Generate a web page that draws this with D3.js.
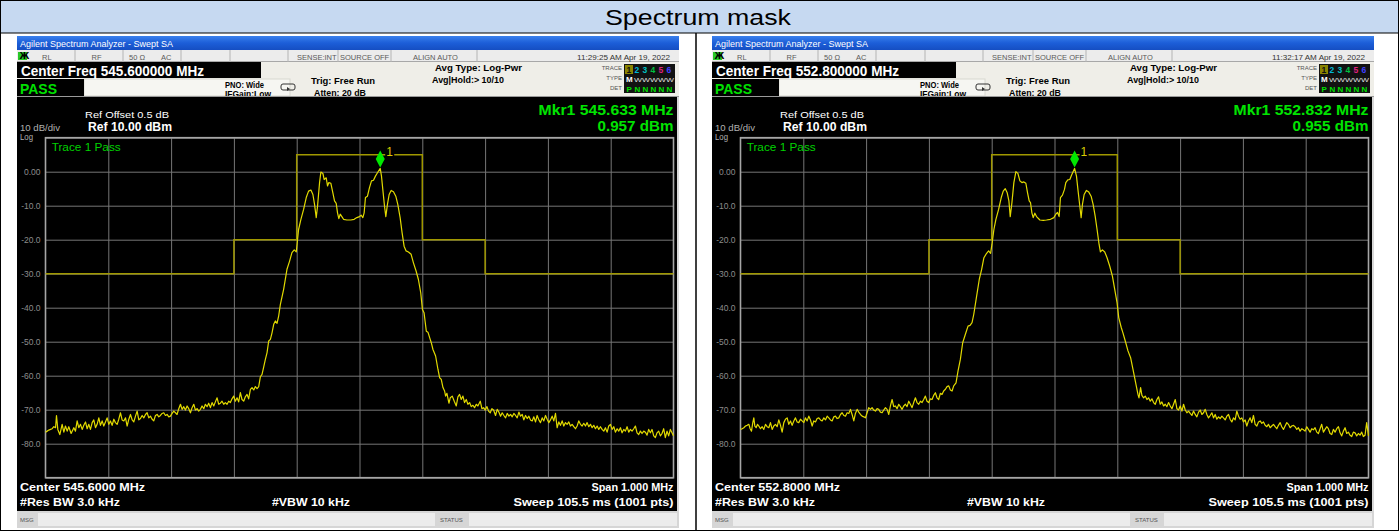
<!DOCTYPE html>
<html><head><meta charset="utf-8">
<script src="https://cdn.jsdelivr.net/npm/d3@7"></script>
<style>html,body{margin:0;padding:0;background:#fff;}svg{display:block;}</style>
</head><body>
<svg id="c" width="1399" height="531"></svg>
<script>
// ---------------- DATA ----------------
const chartTitle = "Spectrum mask";
const windowTitle = "Agilent Spectrum Analyzer - Swept SA";
const centerFreqLabels = ["545.600000", "552.800000"];
const centerLabels = ["545.6000", "552.8000"];
const markerOffsetsKHz = [33, 32];
const markerLevelsDbm = [0.957, 0.955];
const markerFreqLabels = ["545.633", "552.832"];
const timestamps = ["11:29:25 AM Apr 19, 2022", "11:32:17 AM Apr 19, 2022"];
const statusLabels = ["RL", "RF", "50 \u03A9", "AC", "SENSE:INT", "SOURCE OFF", "ALIGN AUTO"];
const yTicks = [0, -10, -20, -30, -40, -50, -60, -70, -80];
const yTickLabels = ["0.00", "-10.0", "-20.0", "-30.0", "-40.0", "-50.0", "-60.0", "-70.0", "-80.0"];
const yGrid = [10, 0, -10, -20, -30, -40, -50, -60, -70, -80, -90];
const xGridKHz = [-400, -300, -200, -100, 0, 100, 200, 300, 400];
const xDomainKHz = [-500, 500];
const yDomainDbm = [10, -90];
// limit line (offset kHz, dBm)
const maskSteps = [[-500,-30],[-200,-30],[-200,-20],[-100,-20],[-100,5],[100,5],[100,-20],[200,-20],[200,-30],[500,-30]];

// trace 1 of the left screen (offset kHz from center, dBm)
const traceA = [
[-500,-76.6],[-497.3,-76.3],[-494.7,-76.0],[-492,-75.8],[-489.4,-75.6],[-486.7,-75.0],[-484,-75.3],[-482.5,-71.7],[-480.4,-75.8],[-477.2,-77.3],[-473.5,-74.3],[-470.8,-76.6],[-468.2,-74.8],[-465.5,-76.3],[-462.9,-75.0],[-459.2,-77.0],[-454.9,-75.3],[-452.3,-76.3],[-449.6,-73.3],[-447,-75.3],[-444.3,-74.3],[-441.6,-75.8],[-439,-74.6],[-436.3,-73.6],[-433.7,-75.6],[-431,-74.3],[-428.4,-75.8],[-425.7,-73.8],[-423.1,-73.0],[-420.4,-75.3],[-417.8,-74.3],[-415.1,-72.4],[-412.5,-74.6],[-409.8,-73.3],[-407.2,-74.8],[-404.5,-73.6],[-401.9,-72.4],[-399.2,-74.3],[-396.6,-73.3],[-393.9,-74.6],[-391.2,-72.8],[-388.6,-73.8],[-385.9,-74.3],[-383.3,-72.8],[-380.6,-70.9],[-378,-73.0],[-375.3,-73.3],[-372.6,-72.4],[-370,-74.8],[-367.3,-72.8],[-364.7,-71.4],[-362,-73.0],[-359.4,-73.6],[-356.7,-71.9],[-354.1,-70.4],[-351.4,-73.0],[-348.8,-72.6],[-346.1,-71.7],[-343.5,-72.4],[-340.8,-71.4],[-338.2,-70.9],[-335.5,-72.4],[-332.9,-71.9],[-330.2,-72.8],[-327.6,-73.3],[-324.9,-71.7],[-322.3,-71.4],[-319.6,-72.1],[-317,-71.7],[-314.3,-71.1],[-311.7,-70.9],[-309,-71.7],[-306.4,-71.4],[-303.7,-72.1],[-301.1,-71.9],[-298.4,-71.1],[-295.8,-70.4],[-293.1,-70.9],[-290.5,-71.4],[-287.8,-69.7],[-285.1,-68.4],[-282.5,-69.9],[-279.8,-69.1],[-277.2,-70.1],[-274.5,-68.9],[-271.9,-69.7],[-269.2,-70.9],[-266.6,-69.4],[-263.9,-68.4],[-261.3,-70.1],[-258.6,-69.7],[-256,-70.4],[-253.3,-69.9],[-250.7,-68.9],[-248,-69.7],[-245.4,-68.4],[-242.7,-69.1],[-240.1,-68.1],[-237.4,-69.4],[-234.8,-67.9],[-232.1,-68.9],[-229.5,-67.7],[-226.8,-66.5],[-224.2,-68.4],[-221.5,-68.1],[-218.9,-67.5],[-216.2,-68.4],[-213.6,-67.9],[-210.9,-68.4],[-208.3,-67.5],[-205.6,-67.9],[-203,-66.8],[-200.3,-66.0],[-197.7,-67.5],[-195,-66.5],[-192.4,-67.7],[-189.7,-65.0],[-187.1,-67.0],[-184.4,-67.5],[-181.8,-66.2],[-179.1,-65.5],[-176.5,-66.8],[-173.7,-64.0],[-171.1,-63.5],[-168.4,-64.2],[-165.8,-63.2],[-163.1,-63.8],[-160.5,-63.2],[-157.8,-60.3],[-155.2,-59.6],[-152.5,-57.4],[-149.9,-55.2],[-147.2,-53.2],[-144.6,-49.8],[-141.9,-49.3],[-139.3,-47.4],[-136.6,-44.9],[-134,-43.9],[-131.3,-44.6],[-128.6,-42.3],[-126,-39.0],
[-120.8,-34.6],[-115.5,-28.7],[-111.3,-26.3],[-107.6,-23.8],[-103.9,-23.0],[-100.7,-23.6],[-97.0,-17.0],[-93.3,-14.0],[-89.0,-11.1],[-84.8,-7.6],[-81.1,-5.7],[-77.4,-5.4],[-74.2,-6.7],[-71.6,-9.6],[-68.9,-13.5],[-66.8,-10.1],[-63.6,-3.2],[-61.5,-0.1],[-58.3,-0.5],[-56.2,-2.3],[-53.0,-1.8],[-50.9,-4.2],[-48.8,-3.2],[-45.6,-3.4],[-42.4,-6.2],[-39.8,-8.6],[-37.1,-9.3],[-35.0,-12.1],[-32.9,-13.8],[-30.7,-12.5],[-28.1,-13.2],[-25.4,-14.0],[-20.1,-14.2],[-13.8,-14.2],[-8.5,-14.0],[-4.2,-13.5],[0,-13.2],[2.7,-12.8],[5.3,-13.5],[7.4,-12.1],[9.5,-7.6],[12.7,-7.2],[15.9,-4.7],[19.1,-2.7],[22.3,-2.5],[25.4,-1.3],[28.6,-0.3],[33,0.957],[35.0,-1.3],[37.1,-5.2],[39.8,-10.1],[41.9,-13.2],[44.5,-9.6],[47.2,-6.7],[50.4,-5.5],[54.1,-5.9],[57.8,-7.2],[61.0,-9.6],[64.7,-13.5],[67.8,-17.9],[71.0,-21.9],[74.2,-23.3],[77.9,-23.6],[82.2,-24.3],[85.9,-26.8],[90.1,-29.2],[93.8,-31.7],[97.5,-35.6],[100.2,-40.5],[102.8,-41.5],
[106.4,-46.9],[109,-47.2],[111.7,-48.8],[114.3,-50.3],[117,-52.3],[121.2,-54.2],[124.9,-58.1],[127.6,-60.6],[130.2,-61.1],[132.9,-63.5],[135.5,-64.5],[137.1,-66.0],[139.2,-65.2],[142.4,-68.1],[144.5,-66.5],[147.7,-66.0],[150.9,-67.5],[154.1,-68.9],[156.7,-66.2],[159.4,-65.5],[162,-67.0],[164.7,-66.0],[167.3,-67.9],[170,-67.0],[172.6,-68.4],[175.3,-67.9],[177.9,-69.1],[180.6,-68.7],[183.2,-69.4],[185.9,-68.4],[188.5,-68.9],[192.3,-67.5],[194.9,-69.7],[197.6,-69.4],[200.2,-70.1],[202.9,-69.1],[205.5,-70.4],[208.2,-70.9],[210.8,-69.7],[213.5,-70.1],[216.6,-71.7],[219.3,-69.9],[221.9,-70.7],[224.6,-71.9],[227.2,-70.9],[229.9,-71.7],[232.6,-72.4],[235.2,-71.1],[237.9,-71.9],[240.5,-71.4],[243.2,-72.1],[245.8,-71.1],[248.5,-71.7],[251.1,-72.4],[253.8,-70.7],[256.4,-71.9],[259.1,-71.4],[261.7,-73.0],[264.4,-71.7],[267,-72.6],[269.7,-71.9],[272.3,-73.0],[275,-73.3],[277.6,-72.1],[280.3,-73.6],[282.9,-71.7],[285.6,-73.0],[288.2,-73.8],[290.9,-72.4],[293.5,-73.3],[296.2,-71.7],[298.8,-72.8],[301.5,-73.8],[304.1,-73.0],[306.8,-71.9],[309.4,-73.3],[312.1,-71.1],[314.7,-75.3],[317.4,-73.6],[320,-74.6],[322.7,-73.3],[325.3,-74.8],[328,-73.8],[330.6,-74.3],[333.3,-73.6],[335.9,-74.8],[338.6,-74.3],[341.2,-75.0],[343.9,-75.6],[346.5,-74.8],[349.2,-73.3],[351.8,-74.3],[354.5,-74.8],[357.1,-74.0],[359.8,-74.8],[362.4,-73.8],[365.1,-75.0],[367.8,-74.3],[370.4,-75.3],[373.1,-74.6],[375.7,-75.6],[378.4,-74.8],[381,-75.8],[383.7,-75.0],[386.3,-75.8],[389,-76.3],[391.6,-75.3],[394.3,-76.6],[396.9,-74.8],[399.6,-74.3],[402.2,-75.8],[404.9,-75.0],[407.5,-76.6],[410.2,-75.6],[412.8,-76.3],[415.5,-75.3],[418.1,-76.8],[420.8,-75.8],[423.4,-76.3],[426.1,-75.0],[428.7,-76.6],[431.4,-75.8],[434,-76.3],[436.7,-75.6],[439.3,-74.8],[442,-76.8],[444.6,-77.3],[447.3,-76.3],[449.9,-77.0],[452.6,-76.3],[455.2,-76.6],[457.9,-77.5],[460.5,-75.8],[463.2,-76.8],[465.8,-75.8],[468.5,-77.7],[471.1,-78.2],[473.8,-76.8],[476.4,-76.3],[479.1,-77.7],[481.7,-77.0],[484.4,-75.6],[487,-78.2],[489.7,-76.3],[492.3,-77.7],[495,-75.8],[497.6,-76.8],[500,-77.7]
];

// trace 1 of the right screen (offset kHz from center, dBm)
const traceB = [
[-500,-75.8],[-497.3,-75.6],[-494.7,-75.3],[-492,-74.8],[-489.4,-74.6],[-486.7,-74.3],[-484.6,-75.6],[-482.5,-76.3],[-480.4,-73.8],[-478.8,-72.4],[-477.2,-74.8],[-475.1,-75.3],[-472.9,-74.3],[-470.8,-74.8],[-468.2,-75.6],[-465.5,-75.0],[-462.9,-75.8],[-460.2,-74.3],[-457.6,-75.0],[-454.9,-75.3],[-452.3,-73.8],[-449.6,-75.8],[-447,-74.8],[-444.3,-74.3],[-441.6,-75.0],[-439,-73.0],[-436.3,-74.6],[-433.7,-76.6],[-431,-73.8],[-428.4,-72.8],[-425.7,-72.4],[-423.1,-74.3],[-420.4,-73.3],[-417.8,-74.6],[-415.1,-73.3],[-412.5,-72.4],[-409.8,-73.6],[-407.2,-73.8],[-404.5,-72.8],[-401.9,-73.3],[-399.2,-73.8],[-396.6,-72.4],[-393.9,-73.3],[-391.2,-71.9],[-388.6,-73.0],[-385.9,-74.8],[-383.3,-73.3],[-380.6,-73.6],[-378,-72.6],[-375.3,-72.4],[-372.6,-73.0],[-370,-73.3],[-367.3,-72.4],[-364.7,-73.0],[-362,-71.9],[-359.4,-72.4],[-356.7,-73.0],[-354.1,-73.3],[-351.4,-72.1],[-348.8,-71.9],[-346.1,-72.6],[-343.5,-72.4],[-340.8,-71.4],[-338.2,-70.9],[-335.5,-71.7],[-332.9,-71.9],[-330.2,-70.9],[-327.6,-71.1],[-324.9,-69.9],[-322.3,-71.4],[-319.6,-73.3],[-317,-71.1],[-314.3,-69.9],[-311.7,-70.7],[-309,-71.4],[-306.4,-71.9],[-303.7,-72.1],[-301.1,-72.4],[-298.4,-70.9],[-295.8,-69.4],[-293.1,-69.9],[-290.5,-69.4],[-287.8,-70.1],[-285.1,-70.4],[-282.5,-69.7],[-279.8,-69.9],[-277.2,-70.7],[-274.5,-70.9],[-271.9,-70.1],[-269.2,-69.4],[-266.6,-69.9],[-263.9,-71.4],[-261.3,-68.9],[-258.6,-67.0],[-256,-69.1],[-253.3,-68.9],[-250.7,-69.7],[-248,-68.4],[-245.4,-69.1],[-242.7,-69.9],[-240.1,-68.9],[-237.4,-68.4],[-234.8,-69.1],[-232.1,-67.5],[-229.5,-68.4],[-226.8,-69.4],[-224.2,-67.9],[-221.5,-66.5],[-218.9,-67.9],[-216.2,-68.4],[-213.6,-67.5],[-210.9,-67.9],[-208.3,-67.0],[-205.6,-66.0],[-203,-67.5],[-200.3,-67.9],[-197.7,-66.8],[-195,-67.0],[-192.4,-65.8],[-189.7,-65.0],[-187.1,-66.5],[-184.4,-67.0],[-181.8,-65.2],[-179.1,-65.5],[-176.5,-64.5],[-173.7,-64.0],[-171.1,-63.2],[-168.4,-63.0],[-165.8,-64.2],[-163.1,-64.5],[-160.5,-63.0],[-156.8,-62.1],[-153.6,-58.6],[-149.9,-55.2],[-146.2,-50.3],[-141.9,-47.8],[-137.7,-45.4],[-134.5,-45.2],[-131.3,-44.4],[-128.6,-42.0],
[-124,-36.6],[-119.8,-31.7],[-116,-28.7],[-112.4,-25.3],[-108.1,-24.0],[-104.9,-23.3],[-101.8,-24.0],[-99.6,-21.4],[-96.5,-17.0],[-93.3,-14.0],[-89,-11.1],[-84.8,-7.6],[-81.6,-5.7],[-78.4,-5.0],[-75.3,-6.2],[-72.6,-8.6],[-70.5,-13.2],[-67.8,-9.1],[-64.7,-3.2],[-61.5,0],[-58.3,-0.5],[-55.1,-2.7],[-51.9,-3.2],[-48.8,-3.0],[-45.6,-3.4],[-42.9,-6.2],[-40.3,-8.6],[-38.2,-9.1],[-36,-12.1],[-33.9,-13.5],[-31.3,-12.2],[-28.6,-13.2],[-23.3,-14.2],[-18,-14.3],[-12.7,-14.2],[-6.4,-14.0],[-1,-13.5],[2.1,-12.5],[4.8,-12.0],[7.4,-13.2],[9.5,-7.6],[12.7,-6.9],[15.9,-5.2],[18,-3.2],[21.2,-2.4],[24.4,-2.3],[27.6,-0.8],[32,0.955],[35,-1.3],[37.6,-5.7],[40.3,-10.1],[42.4,-13.5],[44.5,-9.6],[47.2,-6.7],[50.9,-5.5],[54.6,-6.0],[58.3,-7.2],[61.5,-9.6],[64.7,-13.0],[67.8,-17.0],[71,-21.4],[73.1,-23.6],[76.3,-23.0],[80,-23.6],[83.7,-25.3],[88,-27.8],[92.2,-30.7],[95.9,-34.6],[99.6,-38.5],[102.3,-42.9],
[106.4,-45.9],[109,-47.4],[112.7,-49.8],[117,-52.7],[121.2,-54.7],[124.9,-58.1],[127.6,-60.6],[130.2,-63.0],[132.9,-65.5],[134.5,-66.5],[137.1,-63.5],[139.2,-65.8],[141.9,-66.5],[144.5,-66.0],[147.2,-67.0],[149.8,-66.5],[152.5,-67.5],[155.1,-66.8],[157.8,-67.9],[160.4,-68.4],[163.1,-67.0],[165.7,-66.2],[168.4,-68.4],[171,-67.7],[173.7,-68.9],[176.3,-68.4],[179,-69.1],[181.7,-67.9],[184.3,-68.9],[187,-69.7],[189.6,-68.4],[192.3,-67.0],[194.9,-69.7],[197.6,-70.1],[200.2,-68.9],[202.9,-70.4],[205.5,-68.4],[208.2,-70.1],[210.8,-70.9],[213.5,-70.4],[216.1,-71.1],[218.8,-71.7],[221.4,-70.4],[224.1,-71.4],[226.7,-72.1],[229.4,-70.7],[232,-70.1],[234.7,-71.4],[237.3,-70.9],[240,-69.9],[242.6,-71.4],[245.3,-72.4],[247.9,-71.7],[250.6,-70.9],[253.2,-72.4],[255.9,-71.4],[258.5,-72.8],[261.2,-72.1],[263.8,-72.6],[266.5,-71.9],[269.1,-72.4],[271.8,-73.0],[274.4,-71.9],[277.1,-71.4],[279.7,-72.8],[282.4,-73.6],[285,-72.4],[287.7,-73.0],[290.3,-70.4],[293,-71.9],[295.6,-72.8],[298.3,-72.4],[300.9,-73.6],[303.6,-73.0],[306.2,-74.8],[308.9,-73.3],[311.5,-72.4],[314.2,-73.8],[316.8,-71.7],[319.5,-74.3],[322.2,-74.8],[324.8,-73.6],[327.5,-73.3],[330.1,-74.0],[332.8,-73.6],[335.4,-74.6],[338.1,-75.0],[340.7,-74.3],[343.4,-75.3],[346,-74.8],[348.7,-74.3],[351.3,-75.0],[354,-75.6],[356.6,-74.6],[359.3,-73.8],[361.9,-75.0],[364.6,-75.8],[367.2,-74.8],[369.9,-73.8],[372.5,-74.3],[375.2,-75.3],[377.8,-74.8],[380.5,-74.6],[383.1,-75.0],[385.8,-75.8],[388.4,-75.3],[391.1,-76.3],[393.7,-75.6],[396.4,-75.9],[399,-76.3],[401.7,-75.0],[404.3,-75.8],[407,-76.6],[409.6,-75.6],[412.3,-75.9],[414.9,-75.3],[417.6,-76.6],[420.2,-77.0],[422.9,-75.6],[425.5,-74.3],[428.2,-76.6],[430.8,-75.8],[433.5,-75.0],[436.1,-75.6],[438.8,-77.0],[441.5,-77.3],[444.1,-75.8],[446.8,-76.6],[449.4,-75.6],[452.1,-75.0],[454.7,-76.8],[457.4,-77.7],[460,-76.3],[462.7,-75.3],[465.3,-77.0],[468,-76.6],[470.6,-77.5],[473.3,-77.9],[475.9,-76.6],[478.6,-76.8],[481.2,-77.7],[483.9,-77.0],[486.5,-77.5],[489.2,-76.6],[491.8,-77.9],[494.5,-77.5],[497.1,-73.8],[500,-77.7]
];
const traces = [traceA, traceB];

// ---------------- DRAWING ----------------
const W = 1399, H = 531;
const FONT = "'Liberation Sans Narrow','Liberation Sans',Arial,sans-serif";
const svg = d3.select("#c");

svg.append("rect").attr("width", W).attr("height", H).attr("fill", "#fff");
svg.append("rect").attr("x", 0.5).attr("y", 0.5).attr("width", W - 1).attr("height", 32.5).attr("fill", "#c6d9f1");
svg.append("text").attr("x", 605).attr("y", 25).attr("font-family", "'Liberation Sans',Arial,sans-serif")
  .attr("font-size", 22).attr("fill", "#000").attr("textLength", 186).attr("lengthAdjust", "spacingAndGlyphs").text(chartTitle);
svg.append("rect").attr("x", 0.5).attr("y", 0.5).attr("width", W - 1).attr("height", H - 1).attr("fill", "none").attr("stroke", "#000");
svg.append("line").attr("x1", 0).attr("x2", W).attr("y1", 33).attr("y2", 33).attr("stroke", "#000");
svg.append("line").attr("x1", 696).attr("x2", 696).attr("y1", 33).attr("y2", H).attr("stroke", "#000").attr("stroke-width", 1.5);

const defs = svg.append("defs");
const grad = defs.append("linearGradient").attr("id", "tb").attr("x1", 0).attr("x2", 0).attr("y1", 0).attr("y2", 1);
grad.append("stop").attr("offset", "0%").attr("stop-color", "#3a80ec");
grad.append("stop").attr("offset", "50%").attr("stop-color", "#1c5ed8");
grad.append("stop").attr("offset", "100%").attr("stop-color", "#154ec2");

function txt(g, x, y, s, o) {
  o = o || {};
  const t = g.append("text").attr("x", x).attr("y", y).text(s)
    .attr("font-family", o.family || FONT)
    .attr("font-size", o.size || 9)
    .attr("font-weight", o.bold ? "bold" : "normal")
    .attr("fill", o.fill || "#000");
  if (o.w) t.attr("textLength", o.w).attr("lengthAdjust", "spacingAndGlyphs");
  if (o.anchor) t.attr("text-anchor", o.anchor);
  return t;
}

const panelX0 = [17, 712];
const statusX = [25, 74.5, 112, 144, 280, 323, 396];
const statusSep = [58, 106, 164, 213, 271, 321, 374, 460];
const PL = 28.5, PR = 656.5, PT = 137.7, PB = 477.7;

function drawPanel(i) {
  const g = svg.append("g").attr("transform", `translate(${panelX0[i]},0)`);
  const PW = 662;
  // window title bar
  g.append("rect").attr("x", 0).attr("y", 36).attr("width", PW).attr("height", 14).attr("fill", "url(#tb)");
  txt(g, 3, 46.5, windowTitle, {size: 9, fill: "#fff", w: 153});
  // status row
  g.append("rect").attr("x", 0).attr("y", 50).attr("width", PW).attr("height", 12).attr("fill", "#ececec");
  g.append("line").attr("x1", 0).attr("x2", PW).attr("y1", 61.5).attr("y2", 61.5).attr("stroke", "#a8a8a8");
  statusSep.forEach(s => g.append("line").attr("x1", s).attr("x2", s).attr("y1", 50).attr("y2", 62).attr("stroke", "#b4b4b4"));
  g.append("rect").attr("x", 1).attr("y", 52).attr("width", 9).attr("height", 8).attr("fill", "#28c828");
  txt(g, 2.5, 59, "Ж", {size: 8, fill: "#000", bold: true, family: "'DejaVu Sans',sans-serif"});
  statusLabels.forEach((s, k) => txt(g, statusX[k], 59.5, s, {size: 7.5, fill: "#5a5a5a"}));
  txt(g, 560, 59.5, timestamps[i], {size: 7.5, fill: "#333", w: 93});
  // control area
  g.append("rect").attr("x", 0).attr("y", 62).attr("width", PW).attr("height", 35).attr("fill", "#efeee8");
  g.append("rect").attr("x", 67).attr("y", 79).attr("width", 206).attr("height", 17).attr("fill", "#f6f6f2").attr("stroke", "#d8d8d0");
  g.append("rect").attr("x", 0).attr("y", 62).attr("width", 244).attr("height", 16).attr("fill", "#000");
  txt(g, 4, 76, "Center Freq " + centerFreqLabels[i] + " MHz", {size: 14, bold: true, fill: "#fff", w: 183});
  g.append("rect").attr("x", 0).attr("y", 79).attr("width", 67).attr("height", 17).attr("fill", "#000");
  txt(g, 3, 93.5, "PASS", {size: 14, bold: true, fill: "#00e000", w: 37});
  txt(g, 208, 88, "PNO: Wide", {size: 8.5, bold: true, w: 39});
  txt(g, 208, 97, "IFGain:Low", {size: 8.5, bold: true, w: 46});
  g.append("path").attr("d", "M266,84 h10 a2,2 0 0 1 2,2 v2 a2,2 0 0 1 -2,2 h-10 a2,2 0 0 1 -2,-2 v-2 a2,2 0 0 1 2,-2 Z")
    .attr("fill", "none").attr("stroke", "#333").attr("stroke-width", 1);
  g.append("path").attr("d", "M270,87 l3,2 l-3,2 Z").attr("fill", "#333");
  txt(g, 294, 84, "Trig: Free Run", {size: 9.5, bold: true, w: 64});
  txt(g, 297, 96, "Atten: 20 dB", {size: 9.5, bold: true, w: 52});
  txt(g, 418, 71, "Avg Type: Log-Pwr", {size: 9.5, bold: true, w: 87});
  txt(g, 415, 83, "Avg|Hold:> 10/10", {size: 9.5, bold: true, w: 72});
  txt(g, 605, 70, "TRACE", {size: 6, fill: "#555", anchor: "end"});
  txt(g, 605, 80, "TYPE", {size: 6, fill: "#555", anchor: "end"});
  txt(g, 605, 90, "DET", {size: 6, fill: "#555", anchor: "end"});
  g.append("rect").attr("x", 607).attr("y", 64).attr("width", 51).attr("height", 29).attr("fill", "#121212");
  g.append("rect").attr("x", 608).attr("y", 65).attr("width", 8).attr("height", 9).attr("fill", "#8a8400");
  const trCols = ["#101010", "#00b8d8", "#00c0c0", "#00c040", "#e02080", "#4040ff"];
  ["1","2","3","4","5","6"].forEach((d, k) => txt(g, 609.5 + k * 8, 72.5, d, {size: 8.5, bold: true, fill: trCols[k]}));
  txt(g, 609, 82, "M", {size: 8, bold: true, fill: "#fff"});
  txt(g, 617, 82, "WWWWW", {size: 6, fill: "#ddd", w: 40});
  ["P","N","N","N","N","N"].forEach((d, k) => txt(g, 609.5 + k * 8, 91.5, d, {size: 8, bold: true, fill: "#00e000"}));
  g.append("line").attr("x1", 0).attr("x2", PW).attr("y1", 96.5).attr("y2", 96.5).attr("stroke", "#9a9a9a");
  // screen
  g.append("rect").attr("x", 0).attr("y", 97).attr("width", 660).attr("height", 414).attr("fill", "#000");
  g.append("rect").attr("x", 660).attr("y", 97).attr("width", 2).attr("height", 414).attr("fill", "#d8d8d8");
  txt(g, 68, 118, "Ref Offset 0.5 dB", {size: 9, fill: "#fff", w: 84});
  txt(g, 3, 131, "10 dB/div", {size: 9, fill: "#b0b0b0", w: 40});
  txt(g, 71, 131, "Ref 10.00 dBm", {size: 12, bold: true, fill: "#fff", w: 84});
  txt(g, 3, 139.5, "Log", {size: 9, fill: "#b0b0b0", w: 13});
  txt(g, PR - 135, 115, "Mkr1 " + markerFreqLabels[i] + " MHz", {size: 15, bold: true, fill: "#00e400", w: 135});
  txt(g, PR - 76, 131, markerLevelsDbm[i].toFixed(3) + " dBm", {size: 15, bold: true, fill: "#00e400", w: 76});

  const x = d3.scaleLinear().domain(xDomainKHz).range([PL, PR]);
  const y = d3.scaleLinear().domain(yDomainDbm).range([PT, PB]);

  // grid
  const gy = g.append("g").attr("transform", `translate(${PL},0)`)
    .call(d3.axisLeft(y).tickValues(yGrid).tickSize(-(PR - PL)).tickFormat(""));
  gy.select(".domain").remove();
  gy.selectAll("line").attr("stroke", "#767676");
  const gx = g.append("g").attr("transform", `translate(0,${PB})`)
    .call(d3.axisBottom(x).tickValues(xGridKHz).tickSize(-(PB - PT)).tickFormat(""));
  gx.select(".domain").remove();
  gx.selectAll("line").attr("stroke", "#767676");
  // y labels
  const ya = g.append("g").attr("transform", `translate(${PL},0)`)
    .call(d3.axisLeft(y).tickValues(yTicks).tickSize(0).tickPadding(5).tickFormat((d, k) => yTickLabels[k]));
  ya.select(".domain").remove();
  ya.selectAll("text").attr("font-family", "'Liberation Sans',Arial,sans-serif").attr("font-size", 8.5).attr("fill", "#8c8c8c");
  // border
  g.append("rect").attr("x", PL).attr("y", PT).attr("width", PR - PL).attr("height", PB - PT)
    .attr("fill", "none").attr("stroke", "#a6a6a6").attr("stroke-width", 1.6);

  txt(g, 34.7, 150.5, "Trace 1 Pass", {size: 11, fill: "#00d200", w: 69, family: "'Liberation Sans',Arial,sans-serif"});

  // mask
  const line = d3.line().x(d => x(d[0])).y(d => y(d[1]));
  g.append("path").datum(maskSteps).attr("d", line).attr("fill", "none")
    .attr("stroke", "#a09800").attr("stroke-width", 1.5);
  // trace
  g.append("path").datum(traces[i]).attr("d", line).attr("fill", "none")
    .attr("stroke", "#e2da00").attr("stroke-width", 1.2).attr("stroke-linejoin", "round");
  // marker
  const mx = x(markerOffsetsKHz[i]), my = y(markerLevelsDbm[i]);
  g.append("rect").attr("x", mx + 5).attr("y", my - 22).attr("width", 9).attr("height", 13).attr("fill", "#000");
  txt(g, mx + 6, my - 12, "1", {size: 12, fill: "#d8cc00", family: "'Liberation Sans',Arial,sans-serif"});
  g.append("path").attr("d", `M${mx},${my - 18} L${mx + 4.5},${my - 9.5} L${mx},${my - 1} L${mx - 4.5},${my - 9.5} Z`)
    .attr("fill", "#00e800");

  // bottom annotations
  txt(g, 3, 491, "Center " + centerLabels[i] + " MHz", {size: 11.5, bold: true, fill: "#fff", w: 125});
  txt(g, 3, 505.5, "#Res BW 3.0 kHz", {size: 11.5, bold: true, fill: "#fff", w: 100});
  txt(g, 255, 505.5, "#VBW 10 kHz", {size: 11.5, bold: true, fill: "#fff", w: 78});
  txt(g, PR - 82, 491, "Span 1.000 MHz", {size: 11.5, bold: true, fill: "#fff", w: 82});
  txt(g, PR - 160, 505.5, "Sweep  105.5 ms (1001 pts)", {size: 11.5, bold: true, fill: "#fff", w: 160});
  // message bar
  g.append("rect").attr("x", 0).attr("y", 511).attr("width", PW).attr("height", 17).attr("fill", "#d6d6d6");
  g.append("rect").attr("x", 21).attr("y", 513).attr("width", 397).attr("height", 13).attr("fill", "#ececec");
  g.append("rect").attr("x", 452).attr("y", 513).attr("width", 208).attr("height", 13).attr("fill", "#ececec");
  txt(g, 3, 522, "MSG", {size: 6, fill: "#555"});
  txt(g, 423, 522, "STATUS", {size: 6, fill: "#555"});
}
drawPanel(0);
drawPanel(1);
</script>
</body></html>
